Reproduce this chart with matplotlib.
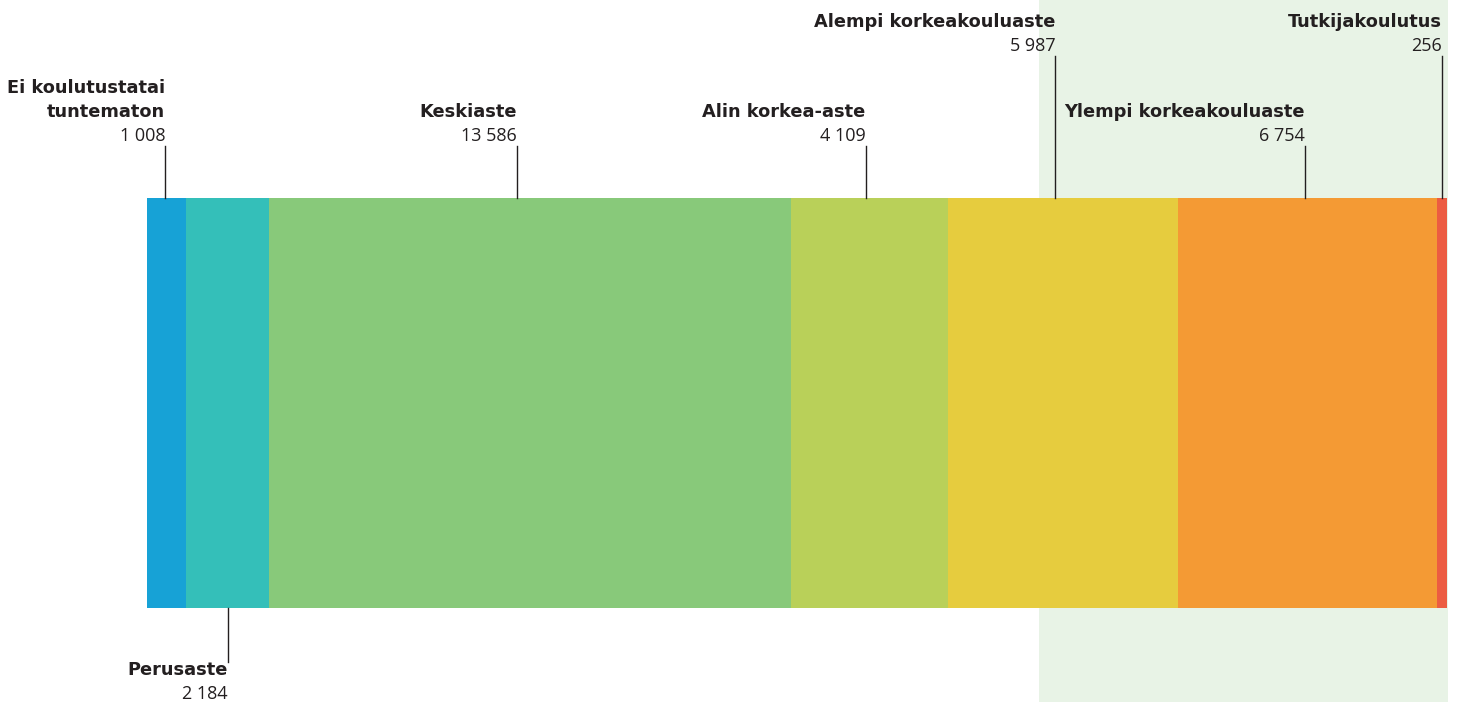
import matplotlib
matplotlib.use("Agg")
import matplotlib.pyplot as plt

# Education level counts
labels = [
    "Ei koulutustatai\ntuntematon",
    "Perusaste",
    "Keskiaste",
    "Alin korkea-aste",
    "Alempi korkeakouluaste",
    "Ylempi korkeakouluaste",
    "Tutkijakoulutus",
]
values = [1008, 2184, 13586, 4109, 5987, 6754, 256]
colors = ["#17a2d6", "#34bfb9", "#88c97a", "#b9d059", "#e6cc3e", "#f49a34", "#ec5c42"]
# label row: 0 = just above bar, 1 = top row, -1 = below bar
label_rows = [0, -1, 0, 0, 1, 0, 1]
# small pixel nudges of the leader lines away from segment centres
line_nudge = [-1, 0, -13, -4, -8, -3, 0]

W, H = 1459, 702
BAR_LEFT, BAR_RIGHT = 147, 1447
BAR_TOP, BAR_BOTTOM = 198, 608
TEXT_COLOR = "#231f20"
NAME_FONT = dict(family="DejaVu Sans", fontweight="bold", fontsize=12.8)
NUM_FONT = dict(family="Open Sans", fontsize=13)

total = sum(values)
scale = (BAR_RIGHT - BAR_LEFT) / total

fig = plt.figure(figsize=(W / 100, H / 100), dpi=100)
ax = fig.add_axes([0, 0, 1, 1])
ax.set_xlim(-BAR_LEFT / scale, (W - BAR_LEFT) / scale)
ax.set_ylim(H, 0)
ax.axis("off")

# light green shading behind the university levels
shade_left = (1039 - BAR_LEFT) / scale
ax.axvspan(shade_left, total + 1 / scale, ymin=0, ymax=1, color="#e8f3e6", zorder=0, lw=0)

left = 0
for lab, val, col, row, nudge in zip(labels, values, colors, label_rows, line_nudge):
    ax.barh(BAR_TOP + (BAR_BOTTOM - BAR_TOP) / 2, val, height=BAR_BOTTOM - BAR_TOP,
            left=left, color=col, lw=0, zorder=2)
    mid = left + val / 2 + nudge / scale
    num = f"{val:,}".replace(",", " ")
    if row == -1:
        ax.plot([mid, mid], [BAR_BOTTOM, 662], color=TEXT_COLOR, lw=1, zorder=3)
        ax.text(mid, 670, lab, ha="right", va="center", color=TEXT_COLOR, **NAME_FONT)
        ax.text(mid, 694, num, ha="right", va="center", color=TEXT_COLOR, **NUM_FONT)
    else:
        num_y = 136 if row == 0 else 46
        ax.plot([mid, mid], [num_y + 10, BAR_TOP], color=TEXT_COLOR, lw=1, zorder=3)
        ax.text(mid, num_y, num, ha="right", va="center", color=TEXT_COLOR, **NUM_FONT)
        lines = lab.split("\n")
        for k, line in enumerate(reversed(lines)):
            ax.text(mid, num_y - 24 * (k + 1), line, ha="right", va="center",
                    color=TEXT_COLOR, **NAME_FONT)
    left += val

fig.savefig("out.png", dpi=100)
